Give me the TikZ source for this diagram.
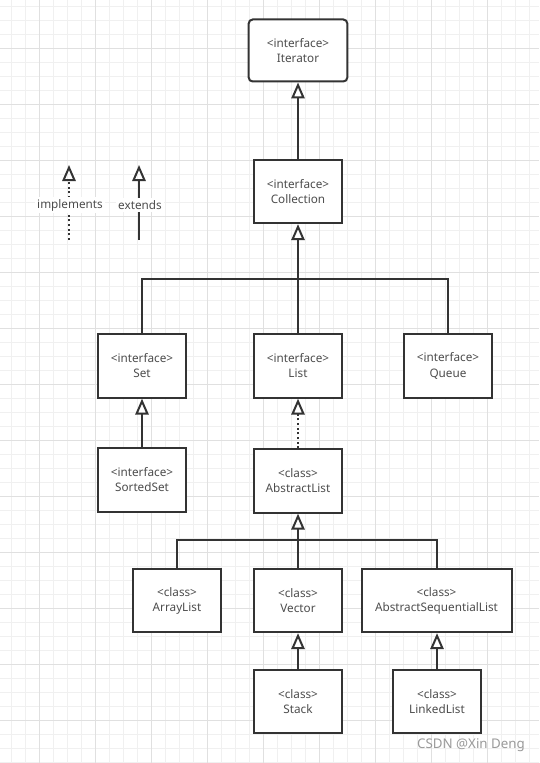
\documentclass[tikz,border=0pt]{standalone}
\usepackage{fontspec}
\setsansfont{Noto Sans}
\usetikzlibrary{arrows.meta}
\definecolor{cline}{HTML}{333333}
\definecolor{ctext}{HTML}{4D4D4D}
\definecolor{cminor}{HTML}{F0F0F0}
\definecolor{cmajor}{HTML}{E0E0E0}
\definecolor{cwater}{HTML}{9A9A9A}
\tikzset{
  every picture/.style={font=\sffamily\fontsize{8.8}{11.3}\selectfont, line width=1.5pt, x=0.75pt, y=-0.75pt},
  box/.style={draw=cline, fill=white, text=ctext, align=center, inner sep=0pt, minimum width=#1, minimum height=47.5pt},
  box/.default=66.5pt,
  link/.style={draw=cline, line width=1.5pt},
  arrow/.style={link, -{Triangle[open, length=12pt, width=10pt]}},
  legend/.style={fill=white, text=ctext, inner sep=1.5pt},
  watermark/.style={font=\sffamily\fontsize{10}{12}\selectfont, text=cwater},
}

\begin{document}
\begin{tikzpicture}
  \useasboundingbox (0,0) rectangle (539,763);
  \fill[white] (0,0) rectangle (539,763);
  % grid
  \foreach \k in {0,...,37} \draw[cminor, line width=0.75pt] (11.3+14*\k,0) -- (11.3+14*\k,763);
  \foreach \k in {0,...,54} \draw[cminor, line width=0.75pt] (0,6.3+14*\k) -- (539,6.3+14*\k);
  \foreach \k in {0,...,8} \draw[cmajor, line width=0.75pt] (39.3+56*\k,0) -- (39.3+56*\k,763);
  \foreach \k in {0,...,12} \draw[cmajor, line width=0.75pt] (0,48.3+56*\k) -- (539,48.3+56*\k);
  % legend
  \coordinate (impltop) at (69,165);
  \coordinate (implbot) at (69,240);
  \coordinate (exttop) at (139,165);
  \coordinate (extbot) at (139,240);
  \draw[arrow, dotted] (implbot) -- (impltop);
  \draw[arrow] (extbot) -- (exttop);
  \node[legend] (impl) at (70,205) {implements};
  \node[legend] (ext) at (140,205) {extends};
  % interfaces
  \node[box=74pt, minimum height=46.5pt, rounded corners=3pt] (iter) at (298,50.5) {<interface>\\Iterator};
  \node[box] (coll) at (298,191.5) {<interface>\\Collection};
  \node[box] (set) at (142,366) {<interface>\\Set};
  \node[box] (list) at (298,366) {<interface>\\List};
  \node[box] (queue) at (448,366) {<interface>\\Queue};
  \node[box] (sset) at (142,480) {<interface>\\SortedSet};
  % classes
  \node[box] (alist) at (298,481) {<class>\\AbstractList};
  \node[box] (arrlist) at (177,600.5) {<class>\\ArrayList};
  \node[box] (vector) at (298,600.5) {<class>\\Vector};
  \node[box=112.5pt] (aslist) at (436.5,600.5) {<class>\\AbstractSequentialList};
  \node[box] (stack) at (298,701.5) {<class>\\Stack};
  \node[box] (llist) at (437,701.5) {<class>\\LinkedList};
  % connectors
  \coordinate (bus1) at (298,279);
  \coordinate (bus2) at (298,540);
  \draw[arrow] (coll) -- (iter);
  \draw[arrow] (list) -- (coll);
  \draw[link] (set) |- (bus1) -| (queue);
  \draw[arrow] (sset) -- (set);
  \draw[arrow, dotted] (alist) -- (list);
  \draw[arrow] (vector) -- (alist);
  \draw[link] (arrlist) |- (bus2) -| (aslist);
  \draw[arrow] (stack) -- (vector);
  \draw[arrow] (llist) -- (llist |- aslist.south);
  \node[watermark] (wm) at (471,745) {CSDN @Xin Deng};
\end{tikzpicture}
\end{document}
